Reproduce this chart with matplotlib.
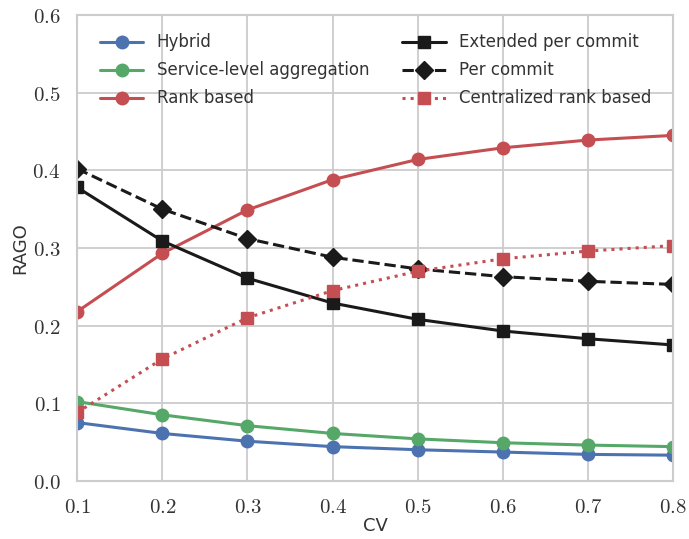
import matplotlib
matplotlib.use("Agg")
import matplotlib.pyplot as plt
import seaborn as sns

cv = [0.1, 0.2, 0.3, 0.4, 0.5, 0.6, 0.7, 0.8]
hybrid = [0.075, 0.061, 0.051, 0.044, 0.040, 0.037, 0.034, 0.033]
service_level = [0.102, 0.085, 0.071, 0.061, 0.054, 0.049, 0.046, 0.044]
rank_based = [0.218, 0.293, 0.349, 0.388, 0.414, 0.429, 0.439, 0.445]
extended_per_commit = [0.378, 0.309, 0.261, 0.229, 0.208, 0.193, 0.183, 0.175]
per_commit = [0.402, 0.350, 0.312, 0.288, 0.273, 0.263, 0.257, 0.253]
centralized = [0.088, 0.157, 0.210, 0.245, 0.270, 0.286, 0.296, 0.303]

xticks = [0.1, 0.2, 0.3, 0.4, 0.5, 0.6, 0.7, 0.8]
yticks = [0.0, 0.1, 0.2, 0.3, 0.4, 0.5, 0.6]

sns.set_theme(style="whitegrid")
plt.rcParams['font.family'] = ['DejaVu Sans']
plt.rcParams['mathtext.fontset'] = 'cm'

pal = sns.color_palette("deep")
blue, green, red = pal[0], pal[2], pal[3]
black = "#1a1a1a"

fig = plt.figure(figsize=(6.89, 5.39), dpi=100)
ax = fig.add_axes([0.112, 0.108, 0.865, 0.864])

lw = 2.2
ms = 9
ax.plot(cv, hybrid, '-o', color=blue, lw=lw, ms=ms, label='Hybrid')
ax.plot(cv, service_level, '-o', color=green, lw=lw, ms=ms, label='Service-level aggregation')
ax.plot(cv, rank_based, '-o', color=red, lw=lw, ms=ms, label='Rank based')
ax.plot(cv, extended_per_commit, '-s', color=black, lw=lw, ms=ms, label='Extended per commit')
ax.plot(cv, per_commit, '--D', color=black, lw=lw, ms=ms, label='Per commit')
ax.plot(cv, centralized, ':s', color=red, lw=lw, ms=ms, label='Centralized rank based')

ax.set_xlim(0.1, 0.8)
ax.set_ylim(0.0, 0.6)
ax.set_xticks(xticks)
ax.set_yticks(yticks)
ax.set_xticklabels([f'${t:.1f}$' for t in xticks], fontsize=15)
ax.set_yticklabels([f'${t:.1f}$' for t in yticks], fontsize=15)
ax.tick_params(colors='#333333', pad=6)
ax.set_xlabel('CV', fontsize=13, color='#333333', labelpad=0)
ax.set_ylabel('RAGO', fontsize=13, color='#333333', labelpad=2)

for s in ax.spines.values():
    s.set_color('#cccccc')
    s.set_linewidth(1.5)
ax.grid(color='#cccccc', linewidth=1.3)

leg = ax.legend(ncol=2, loc='upper left', frameon=False, fontsize=12,
                handlelength=2.6, columnspacing=2.0, labelspacing=0.6,
                borderaxespad=0.0, bbox_to_anchor=(0.027, 0.975))
for t in leg.get_texts():
    t.set_color('#333333')

fig.savefig('out.png', dpi=100)
